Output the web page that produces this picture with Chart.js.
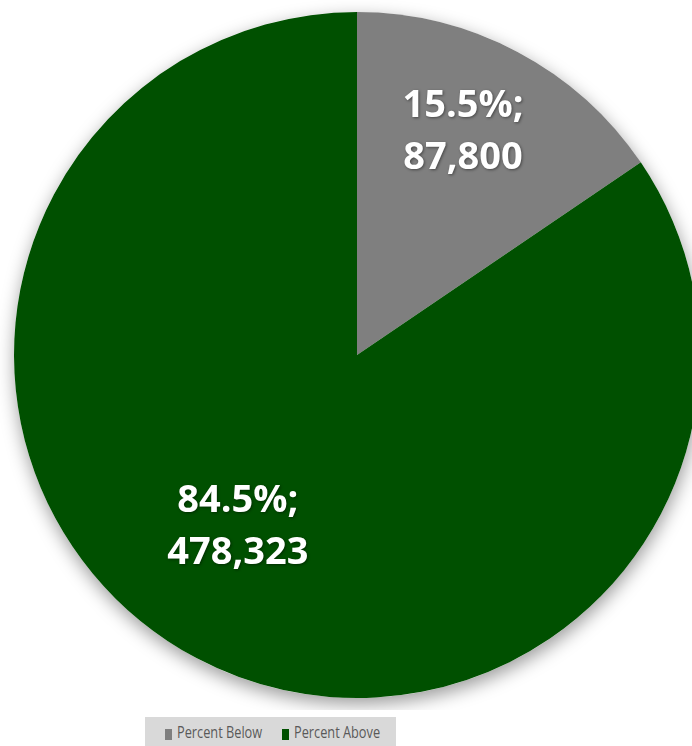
<!DOCTYPE html>
<html>
<head>
<meta charset="utf-8">
<script src="https://cdn.jsdelivr.net/npm/chart.js@4.4.1/dist/chart.umd.min.js"></script>
<style>
  html, body { margin: 0; padding: 0; background: #fff; width: 692px; height: 746px; overflow: hidden; }
  #wrap { position: absolute; left: 0; top: 0; width: 714px; height: 710px; }
  #legend {
    position: absolute; left: 145px; top: 717px; width: 251px; height: 32px;
    background: #d9d9d9; font-family: "Open Sans", sans-serif; color: #595959;
  }
  .item { position: absolute; top: 7px; height: 16px; }
  .box { position: absolute; top: 5px; width: 7px; height: 11px; }
  .txt { position: absolute; left: 12px; top: -3px; font-size: 17px; line-height: 22px; white-space: nowrap;
         transform: scaleX(0.75); transform-origin: left center; }
</style>
</head>
<body>
<div id="wrap"><canvas id="pieChart"></canvas></div>
<div id="legend"></div>
<script>
const labels = ["Percent Below", "Percent Above"];
const values = [87800, 478323];
const colors = ["#7f7f7f", "#005000"];

const total = values.reduce((a, b) => a + b, 0);

// legend built from the same arrays
const legend = document.getElementById("legend");
const legendX = [20, 137];
labels.forEach(function(name, i) {
  const item = document.createElement("div");
  item.className = "item";
  item.style.left = legendX[i] + "px";
  item.innerHTML = '<div class="box" style="background:' + colors[i] + '"></div><span class="txt">' + name + '</span>';
  legend.appendChild(item);
});

const pieShadow = {
  id: "pieShadow",
  beforeDatasetsDraw(chart) {
    const arc = chart.getDatasetMeta(0).data[0];
    if (!arc) return;
    const p = arc.getProps(["x", "y", "outerRadius"], true);
    const ctx = chart.ctx;
    ctx.save();
    ctx.beginPath();
    ctx.arc(p.x, p.y, p.outerRadius, 0, Math.PI * 2);
    ctx.fillStyle = "#fff";
    ctx.shadowColor = "rgba(0,0,0,0.4)";
    ctx.shadowBlur = 18;
    ctx.shadowOffsetX = 1;
    ctx.shadowOffsetY = 6;
    ctx.fill();
    ctx.restore();
  }
};

const sliceLabels = {
  id: "sliceLabels",
  afterDatasetsDraw(chart, args, opts) {
    const ctx = chart.ctx;
    chart.getDatasetMeta(0).data.forEach(function(arc, i) {
      const p = arc.getProps(["x", "y", "startAngle", "endAngle", "outerRadius"], true);
      const mid = (p.startAngle + p.endAngle) / 2 + opts.shift[i] * Math.PI / 180;
      const r = p.outerRadius * opts.dist[i];
      const cx = p.x + Math.cos(mid) * r;
      const cy = p.y + Math.sin(mid) * r;
      const pct = (values[i] / total * 100).toFixed(1) + "%;";
      const num = values[i].toLocaleString("en-US");
      ctx.save();
      ctx.font = "bold 38px 'Open Sans', sans-serif";
      ctx.fillStyle = "#fff";
      ctx.textAlign = "center";
      ctx.textBaseline = "middle";
      ctx.shadowColor = "rgba(0,0,0,0.45)";
      ctx.shadowBlur = 3;
      ctx.shadowOffsetX = 1;
      ctx.shadowOffsetY = 1;
      ctx.fillText(pct, cx, cy - 26);
      ctx.fillText(num, cx, cy + 26);
      ctx.restore();
    });
  }
};

new Chart("pieChart", {
  type: "pie",
  data: {
    labels: labels,
    datasets: [
      {
        data: values,
        backgroundColor: colors,
        borderWidth: 0
      }
    ]
  },
  options: {
    responsive: true,
    maintainAspectRatio: false,
    animation: false,
    layout: { padding: { top: 12, bottom: 12, left: 14, right: 14 } },
    plugins: {
      legend: { display: false },
      tooltip: { enabled: false },
      sliceLabels: { dist: [0.72, 0.61], shift: [-2.5, 6.8] }
    }
  },
  plugins: [pieShadow, sliceLabels]
});
</script>
</body>
</html>
